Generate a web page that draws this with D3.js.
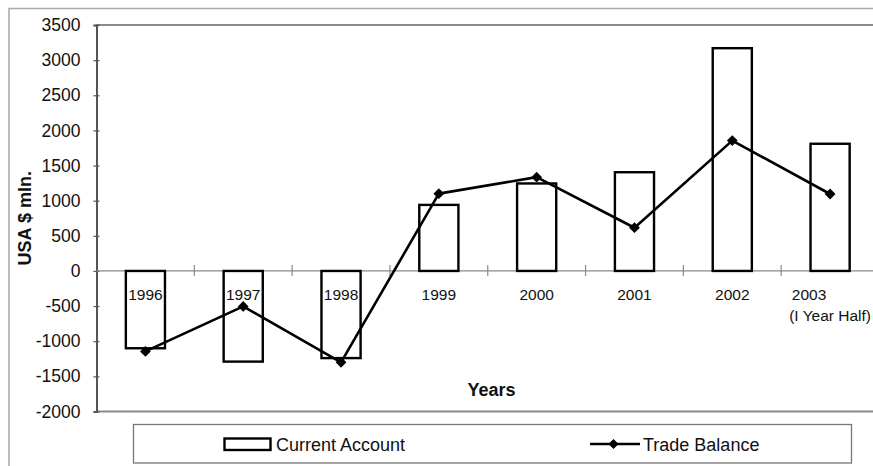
<!DOCTYPE html>
<html>
<head>
<meta charset="utf-8">
<script src="https://cdn.jsdelivr.net/npm/d3@7"></script>
<style>
  html, body { margin: 0; padding: 0; background: #fff; }
  svg { display: block; font-family: "Liberation Sans", Arial, sans-serif; }
</style>
</head>
<body>
<svg id="chart" width="873" height="466"></svg>
<script>
// Balance of payments, USA $ mln.
const years = ["1996", "1997", "1998", "1999", "2000", "2001", "2002", "2003"];
const yearLines = [["1996"], ["1997"], ["1998"], ["1999"], ["2000"], ["2001"], ["2002"], ["2003", "(I Year Half)"]];
const currentAccount = [-1100, -1290, -1240, 940, 1245, 1405, 3170, 1810];
const tradeBalance = [-1145, -505, -1300, 1100, 1335, 615, 1855, 1095];
const yTicks = [-2000, -1500, -1000, -500, 0, 500, 1000, 1500, 2000, 2500, 3000, 3500];
const seriesNames = ["Current Account", "Trade Balance"];

const svg = d3.select("#chart");
const W = 873, H = 466;
const plot = { left: 96.5, top: 25, right: 879, bottom: 411.5 };

// outer chart frame
svg.append("rect")
  .attr("x", 9).attr("y", 8.5)
  .attr("width", W + 20).attr("height", H + 20)
  .attr("fill", "none").attr("stroke", "#a8a8a8").attr("stroke-width", 1.5);

const x = d3.scaleBand().domain(years)
  .range([plot.left, plot.right])
  .paddingInner(0.6).paddingOuter(0.3);
const y = d3.scaleLinear().domain([-2000, 3500]).range([plot.bottom, plot.top]);

// plot area frame (top and bottom edges)
svg.append("line")
  .attr("x1", plot.left).attr("x2", W + 10)
  .attr("y1", plot.top).attr("y2", plot.top)
  .attr("stroke", "#8a8a8a").attr("stroke-width", 2);
svg.append("line")
  .attr("x1", plot.left).attr("x2", W + 10)
  .attr("y1", plot.bottom).attr("y2", plot.bottom)
  .attr("stroke", "#8a8a8a").attr("stroke-width", 2);

// y axis
const yAxis = d3.axisLeft(y).tickValues(yTicks).tickSize(3).tickPadding(13).tickFormat(d => String(d));
const gy = svg.append("g").attr("transform", `translate(${plot.left},0)`).call(yAxis);
gy.select(".domain").attr("stroke", "#555").attr("stroke-width", 2);
gy.selectAll(".tick line").attr("x2", -3).attr("x1", 3).attr("stroke", "#555").attr("stroke-width", 1.2);
gy.selectAll(".tick text")
  .attr("font-size", 17.5).attr("fill", "#111")
  .attr("font-family", "Liberation Sans, Arial, sans-serif");

// zero line with category ticks between bands
const zeroY = y(0);
svg.append("line")
  .attr("x1", plot.left).attr("x2", W + 10)
  .attr("y1", zeroY).attr("y2", zeroY)
  .attr("stroke", "#8a8a8a").attr("stroke-width", 1.3);
const boundaries = years.slice(1).map(d => x(d) - x.step() * x.paddingInner() / 2);
svg.append("g").selectAll("line").data(boundaries).join("line")
  .attr("x1", d => d).attr("x2", d => d)
  .attr("y1", zeroY - 6).attr("y2", zeroY + 5)
  .attr("stroke", "#8a8a8a").attr("stroke-width", 1.2);

// current account bars
svg.append("g").selectAll("rect").data(years).join("rect")
  .attr("x", d => x(d))
  .attr("width", x.bandwidth())
  .attr("y", (d, i) => Math.min(y(0), y(currentAccount[i])))
  .attr("height", (d, i) => Math.abs(y(currentAccount[i]) - y(0)))
  .attr("fill", "#fff").attr("stroke", "#000").attr("stroke-width", 2.4);

// category labels below the zero line
const cx = d => x(d) + x.bandwidth() / 2;
const labels = svg.append("g").attr("font-size", 15.5).attr("fill", "#111");
years.forEach((d, i) => {
  const t = labels.append("text").attr("text-anchor", "middle");
  yearLines[i].forEach((line, j) => {
    t.append("tspan")
      .attr("x", cx(d) + (yearLines[i].length > 1 && j === 0 ? -21 : 0))
      .attr("y", zeroY + 29 + j * 21.5)
      .text(line);
  });
});

// trade balance line with diamond markers
const line = d3.line().x((d, i) => cx(years[i])).y(d => y(d));
svg.append("path").datum(tradeBalance)
  .attr("d", line)
  .attr("fill", "none").attr("stroke", "#000").attr("stroke-width", 2.6)
  .attr("stroke-linejoin", "round");
const marker = d3.symbol().type(d3.symbolSquare).size(58);
svg.append("g").selectAll("path").data(tradeBalance).join("path")
  .attr("d", marker)
  .attr("transform", (d, i) => `translate(${cx(years[i])},${y(d)}) rotate(45)`)
  .attr("fill", "#000");

// axis titles
svg.append("text")
  .attr("x", 491.5).attr("y", 396)
  .attr("text-anchor", "middle").attr("font-size", 18).attr("font-weight", "bold")
  .attr("fill", "#111")
  .text("Years");
svg.append("text")
  .attr("transform", `translate(31,${(plot.top + plot.bottom) / 2}) rotate(-90)`)
  .attr("text-anchor", "middle").attr("font-size", 18).attr("font-weight", "bold")
  .attr("fill", "#111")
  .text("USA $ mln.");

// legend
const legend = svg.append("g");
legend.append("rect")
  .attr("x", 133.5).attr("y", 424.5).attr("width", 718).attr("height", 38.5)
  .attr("fill", "#fff").attr("stroke", "#777").attr("stroke-width", 1.3);
legend.append("rect")
  .attr("x", 224.5).attr("y", 438.5).attr("width", 46).attr("height", 11.5)
  .attr("fill", "#fff").attr("stroke", "#000").attr("stroke-width", 2.4);
legend.append("text")
  .attr("x", 276).attr("y", 450.5).attr("font-size", 18).attr("fill", "#111")
  .text(seriesNames[0]);
legend.append("line")
  .attr("x1", 590).attr("x2", 640).attr("y1", 444).attr("y2", 444)
  .attr("stroke", "#000").attr("stroke-width", 2.6);
legend.append("path")
  .attr("d", d3.symbol().type(d3.symbolSquare).size(50))
  .attr("transform", "translate(613.5,444) rotate(45)")
  .attr("fill", "#000");
legend.append("text")
  .attr("x", 643).attr("y", 450.5).attr("font-size", 18).attr("fill", "#111")
  .text(seriesNames[1]);
</script>
</body>
</html>
